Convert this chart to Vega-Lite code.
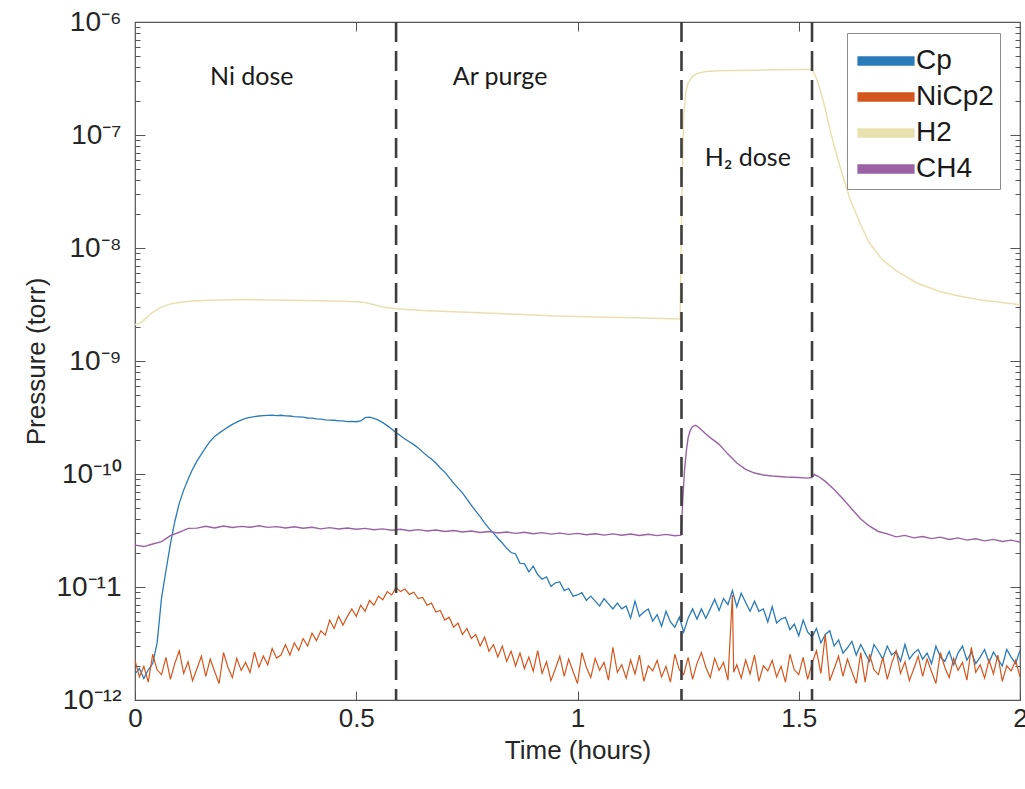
{
  "$schema": "https://vega.github.io/schema/vega-lite/v6.json",
  "width": 885,
  "height": 678,
  "autosize": {"type": "none"},
  "padding": {"left": 135, "top": 22, "right": 5, "bottom": 89},
  "background": "white",
  "config": {
    "view": {"stroke": "#555555", "strokeWidth": 1.2},
    "axis": {"grid": false, "domain": false, "labelFont": "Liberation Sans", "titleFont": "Liberation Sans", "labelColor": "#262626", "titleColor": "#262626", "tickColor": "#555555", "titleFontWeight": "normal"},
    "legend": {"labelFont": "Liberation Sans"}
  },
  "datasets": {
    "cp": [
      {"t":0.00,"p":1.7e-12},{"t":0.01,"p":1.9e-12},{"t":0.02,"p":1.55e-12},{"t":0.03,"p":1.85e-12},{"t":0.04,"p":2.1e-12},
      {"t":0.05,"p":3.2e-12},{"t":0.06,"p":8e-12},{"t":0.07,"p":1.4e-11},{"t":0.08,"p":2.4e-11},{"t":0.09,"p":3.8e-11},
      {"t":0.10,"p":5.5e-11},{"t":0.11,"p":7.2e-11},{"t":0.12,"p":9e-11},{"t":0.13,"p":1.1e-10},{"t":0.14,"p":1.3e-10},
      {"t":0.15,"p":1.5e-10},{"t":0.16,"p":1.72e-10},{"t":0.17,"p":1.95e-10},{"t":0.18,"p":2.15e-10},{"t":0.19,"p":2.3e-10},
      {"t":0.20,"p":2.45e-10},{"t":0.21,"p":2.6e-10},{"t":0.22,"p":2.75e-10},{"t":0.23,"p":2.88e-10},{"t":0.24,"p":3.0e-10},
      {"t":0.25,"p":3.1e-10},{"t":0.26,"p":3.17e-10},{"t":0.27,"p":3.22e-10},{"t":0.28,"p":3.26e-10},{"t":0.29,"p":3.28e-10},
      {"t":0.30,"p":3.3e-10},{"t":0.31,"p":3.32e-10},{"t":0.32,"p":3.29e-10},{"t":0.33,"p":3.31e-10},{"t":0.34,"p":3.27e-10},
      {"t":0.35,"p":3.26e-10},{"t":0.36,"p":3.22e-10},{"t":0.37,"p":3.2e-10},{"t":0.38,"p":3.18e-10},{"t":0.39,"p":3.13e-10},
      {"t":0.40,"p":3.12e-10},{"t":0.41,"p":3.07e-10},{"t":0.42,"p":3.06e-10},{"t":0.43,"p":3.01e-10},{"t":0.44,"p":3.0e-10},
      {"t":0.45,"p":2.99e-10},{"t":0.46,"p":2.95e-10},{"t":0.47,"p":2.95e-10},{"t":0.48,"p":2.91e-10},{"t":0.49,"p":2.92e-10},
      {"t":0.50,"p":2.9e-10},{"t":0.51,"p":2.95e-10},{"t":0.52,"p":3.15e-10},{"t":0.53,"p":3.18e-10},{"t":0.54,"p":3.1e-10},
      {"t":0.55,"p":3.0e-10},{"t":0.56,"p":2.85e-10},{"t":0.57,"p":2.68e-10},{"t":0.58,"p":2.5e-10},{"t":0.59,"p":2.32e-10},
      {"t":0.60,"p":2.18e-10},{"t":0.61,"p":2.04e-10},{"t":0.62,"p":1.93e-10},{"t":0.63,"p":1.82e-10},{"t":0.64,"p":1.7e-10},
      {"t":0.65,"p":1.57e-10},{"t":0.66,"p":1.45e-10},{"t":0.67,"p":1.36e-10},{"t":0.68,"p":1.25e-10},{"t":0.69,"p":1.13e-10},
      {"t":0.70,"p":1.04e-10},{"t":0.71,"p":9.3e-11},{"t":0.72,"p":8.3e-11},{"t":0.73,"p":7.5e-11},{"t":0.74,"p":6.8e-11},
      {"t":0.75,"p":6.0e-11},{"t":0.76,"p":5.3e-11},{"t":0.77,"p":4.7e-11},{"t":0.78,"p":4.2e-11},{"t":0.79,"p":3.7e-11},
      {"t":0.80,"p":3.3e-11},{"t":0.81,"p":3.0e-11},{"t":0.82,"p":2.7e-11},{"t":0.83,"p":2.45e-11},{"t":0.84,"p":2.2e-11},
      {"t":0.85,"p":2.02e-11},{"t":0.86,"p":1.96e-11},{"t":0.87,"p":1.62e-11},{"t":0.88,"p":1.61e-11},{"t":0.89,"p":1.36e-11},
      {"t":0.90,"p":1.53e-11},{"t":0.91,"p":1.29e-11},{"t":0.92,"p":1.17e-11},{"t":0.93,"p":1.23e-11},{"t":0.94,"p":1.01e-11},
      {"t":0.95,"p":1.09e-11},{"t":0.96,"p":1.11e-11},{"t":0.97,"p":9.3e-12},{"t":0.98,"p":9.7e-12},{"t":0.99,"p":8.3e-12},
      {"t":1.00,"p":8.5e-12},{"t":1.01,"p":8.9e-12},{"t":1.02,"p":7.6e-12},{"t":1.03,"p":8.3e-12},{"t":1.04,"p":7.5e-12},
      {"t":1.05,"p":6.8e-12},{"t":1.06,"p":7.9e-12},{"t":1.07,"p":7.1e-12},{"t":1.08,"p":6.4e-12},{"t":1.09,"p":7.2e-12},
      {"t":1.10,"p":6.4e-12},{"t":1.11,"p":6.8e-12},{"t":1.12,"p":5.3e-12},{"t":1.13,"p":7.5e-12},{"t":1.14,"p":5.5e-12},
      {"t":1.15,"p":6.0e-12},{"t":1.16,"p":6.4e-12},{"t":1.17,"p":5.0e-12},{"t":1.18,"p":5.7e-12},{"t":1.19,"p":4.5e-12},
      {"t":1.20,"p":6.1e-12},{"t":1.21,"p":4.9e-12},{"t":1.22,"p":4.4e-12},{"t":1.23,"p":5.4e-12},{"t":1.24,"p":4.0e-12},
      {"t":1.25,"p":5.3e-12},{"t":1.26,"p":6.4e-12},{"t":1.27,"p":5.2e-12},{"t":1.28,"p":6.4e-12},{"t":1.29,"p":5.3e-12},
      {"t":1.30,"p":6.4e-12},{"t":1.31,"p":7.8e-12},{"t":1.32,"p":6.2e-12},{"t":1.33,"p":7.9e-12},{"t":1.34,"p":7.0e-12},
      {"t":1.35,"p":9.3e-12},{"t":1.36,"p":6.7e-12},{"t":1.37,"p":8.8e-12},{"t":1.38,"p":7.3e-12},{"t":1.39,"p":6.1e-12},
      {"t":1.40,"p":7.5e-12},{"t":1.41,"p":6.1e-12},{"t":1.42,"p":6.4e-12},{"t":1.43,"p":4.9e-12},{"t":1.44,"p":6.7e-12},
      {"t":1.45,"p":4.8e-12},{"t":1.46,"p":5.2e-12},{"t":1.47,"p":5.4e-12},{"t":1.48,"p":4.2e-12},{"t":1.49,"p":4.7e-12},
      {"t":1.50,"p":3.7e-12},{"t":1.51,"p":5.1e-12},{"t":1.52,"p":4.0e-12},{"t":1.53,"p":3.6e-12},{"t":1.54,"p":4.3e-12},
      {"t":1.55,"p":3.2e-12},{"t":1.56,"p":3.8e-12},{"t":1.57,"p":4.1e-12},{"t":1.58,"p":3.0e-12},{"t":1.59,"p":3.4e-12},
      {"t":1.60,"p":2.6e-12},{"t":1.61,"p":2.9e-12},{"t":1.62,"p":3.3e-12},{"t":1.63,"p":2.5e-12},{"t":1.64,"p":3.1e-12},
      {"t":1.65,"p":2.6e-12},{"t":1.66,"p":2.2e-12},{"t":1.67,"p":3.1e-12},{"t":1.68,"p":2.7e-12},{"t":1.69,"p":2.3e-12},
      {"t":1.70,"p":3.0e-12},{"t":1.71,"p":2.5e-12},{"t":1.72,"p":2.7e-12},{"t":1.73,"p":2.2e-12},{"t":1.74,"p":3.1e-12},
      {"t":1.75,"p":2.3e-12},{"t":1.76,"p":2.6e-12},{"t":1.77,"p":2.8e-12},{"t":1.78,"p":2.3e-12},{"t":1.79,"p":2.6e-12},
      {"t":1.80,"p":2.1e-12},{"t":1.81,"p":3.0e-12},{"t":1.82,"p":2.4e-12},{"t":1.83,"p":2.2e-12},{"t":1.84,"p":2.7e-12},
      {"t":1.85,"p":2.05e-12},{"t":1.86,"p":2.6e-12},{"t":1.87,"p":3.0e-12},{"t":1.88,"p":2.25e-12},{"t":1.89,"p":2.65e-12},
      {"t":1.90,"p":2.1e-12},{"t":1.91,"p":2.4e-12},{"t":1.92,"p":2.8e-12},{"t":1.93,"p":2.15e-12},{"t":1.94,"p":2.65e-12},
      {"t":1.95,"p":2.3e-12},{"t":1.96,"p":2.0e-12},{"t":1.97,"p":2.8e-12},{"t":1.98,"p":2.4e-12},{"t":1.99,"p":2.1e-12},
      {"t":2.00,"p":2.75e-12}
    ],
    "ni": [
      {"t":0.00,"p":2.24e-12},{"t":0.01,"p":1.6e-12},{"t":0.02,"p":1.99e-12},{"t":0.03,"p":1.44e-12},{"t":0.04,"p":2.54e-12},
      {"t":0.05,"p":1.85e-12},{"t":0.06,"p":1.68e-12},{"t":0.07,"p":2.38e-12},{"t":0.08,"p":1.52e-12},{"t":0.09,"p":2.11e-12},
      {"t":0.10,"p":2.73e-12},{"t":0.11,"p":1.72e-12},{"t":0.12,"p":2.18e-12},{"t":0.13,"p":1.48e-12},{"t":0.14,"p":1.89e-12},
      {"t":0.15,"p":2.44e-12},{"t":0.16,"p":1.62e-12},{"t":0.17,"p":2.3e-12},{"t":0.18,"p":1.79e-12},{"t":0.19,"p":1.4e-12},
      {"t":0.20,"p":2.63e-12},{"t":0.21,"p":1.95e-12},{"t":0.22,"p":1.58e-12},{"t":0.23,"p":2.34e-12},{"t":0.24,"p":1.83e-12},
      {"t":0.25,"p":2.15e-12},{"t":0.26,"p":1.75e-12},{"t":0.27,"p":2.65e-12},{"t":0.28,"p":1.95e-12},{"t":0.29,"p":2.45e-12},
      {"t":0.30,"p":2.05e-12},{"t":0.31,"p":2.85e-12},{"t":0.32,"p":2.35e-12},{"t":0.33,"p":2.5e-12},{"t":0.34,"p":3.1e-12},
      {"t":0.35,"p":2.5e-12},{"t":0.36,"p":3.2e-12},{"t":0.37,"p":2.75e-12},{"t":0.38,"p":3.5e-12},{"t":0.39,"p":3.0e-12},
      {"t":0.40,"p":3.9e-12},{"t":0.41,"p":3.35e-12},{"t":0.42,"p":4.1e-12},{"t":0.43,"p":3.75e-12},{"t":0.44,"p":5.1e-12},
      {"t":0.45,"p":4.3e-12},{"t":0.46,"p":5.5e-12},{"t":0.47,"p":4.6e-12},{"t":0.48,"p":5.5e-12},{"t":0.49,"p":6.4e-12},
      {"t":0.50,"p":5.5e-12},{"t":0.51,"p":6.9e-12},{"t":0.52,"p":6.1e-12},{"t":0.53,"p":7.6e-12},{"t":0.54,"p":6.9e-12},
      {"t":0.55,"p":8.3e-12},{"t":0.56,"p":7.7e-12},{"t":0.57,"p":9.1e-12},{"t":0.58,"p":8.5e-12},{"t":0.59,"p":9.9e-12},
      {"t":0.60,"p":9.1e-12},{"t":0.61,"p":9.6e-12},{"t":0.62,"p":8.6e-12},{"t":0.63,"p":9.0e-12},{"t":0.64,"p":7.9e-12},
      {"t":0.65,"p":8.1e-12},{"t":0.66,"p":6.9e-12},{"t":0.67,"p":7.2e-12},{"t":0.68,"p":6.0e-12},{"t":0.69,"p":6.2e-12},
      {"t":0.70,"p":5.1e-12},{"t":0.71,"p":5.4e-12},{"t":0.72,"p":4.4e-12},{"t":0.73,"p":4.8e-12},{"t":0.74,"p":3.8e-12},
      {"t":0.75,"p":4.3e-12},{"t":0.76,"p":3.5e-12},{"t":0.77,"p":3.8e-12},{"t":0.78,"p":3.0e-12},{"t":0.79,"p":3.6e-12},
      {"t":0.80,"p":2.7e-12},{"t":0.81,"p":3.1e-12},{"t":0.82,"p":2.4e-12},{"t":0.83,"p":3.0e-12},{"t":0.84,"p":2.2e-12},
      {"t":0.85,"p":2.7e-12},{"t":0.86,"p":2.0e-12},{"t":0.87,"p":2.6e-12},{"t":0.88,"p":1.9e-12},{"t":0.89,"p":2.4e-12},
      {"t":0.90,"p":1.8e-12},
      {"t":0.91,"p":2.73e-12},{"t":0.92,"p":1.72e-12},{"t":0.93,"p":2.18e-12},{"t":0.94,"p":1.48e-12},{"t":0.95,"p":1.89e-12},
      {"t":0.96,"p":2.44e-12},{"t":0.97,"p":1.62e-12},{"t":0.98,"p":2.3e-12},{"t":0.99,"p":1.79e-12},{"t":1.00,"p":1.4e-12},
      {"t":1.01,"p":2.63e-12},{"t":1.02,"p":1.95e-12},{"t":1.03,"p":1.58e-12},{"t":1.04,"p":2.34e-12},{"t":1.05,"p":1.83e-12},
      {"t":1.06,"p":2.15e-12},{"t":1.07,"p":1.5e-12},{"t":1.08,"p":2.93e-12},{"t":1.09,"p":1.76e-12},{"t":1.10,"p":2.05e-12},
      {"t":1.11,"p":1.56e-12},{"t":1.12,"p":2.26e-12},{"t":1.13,"p":1.7e-12},{"t":1.14,"p":2.5e-12},{"t":1.15,"p":1.46e-12},
      {"t":1.16,"p":2.01e-12},{"t":1.17,"p":1.81e-12},{"t":1.18,"p":2.24e-12},{"t":1.19,"p":1.6e-12},{"t":1.20,"p":1.99e-12},
      {"t":1.21,"p":1.44e-12},{"t":1.22,"p":2.54e-12},{"t":1.23,"p":1.85e-12},{"t":1.24,"p":1.68e-12},{"t":1.25,"p":2.38e-12},
      {"t":1.26,"p":1.52e-12},{"t":1.27,"p":2.11e-12},
      {"t":1.28,"p":2.63e-12},{"t":1.29,"p":1.95e-12},{"t":1.30,"p":1.58e-12},{"t":1.31,"p":2.34e-12},{"t":1.32,"p":1.83e-12},
      {"t":1.33,"p":2.15e-12},{"t":1.34,"p":1.5e-12},{"t":1.35,"p":8.5e-12},{"t":1.353,"p":1.76e-12},{"t":1.36,"p":2.05e-12},
      {"t":1.37,"p":1.56e-12},{"t":1.38,"p":2.26e-12},{"t":1.39,"p":1.7e-12},{"t":1.40,"p":2.5e-12},{"t":1.41,"p":1.46e-12},
      {"t":1.42,"p":2.01e-12},{"t":1.43,"p":1.81e-12},{"t":1.44,"p":2.24e-12},{"t":1.45,"p":1.6e-12},{"t":1.46,"p":1.99e-12},
      {"t":1.47,"p":1.44e-12},{"t":1.48,"p":2.54e-12},{"t":1.49,"p":1.85e-12},{"t":1.50,"p":1.68e-12},{"t":1.51,"p":2.38e-12},
      {"t":1.52,"p":1.52e-12},{"t":1.53,"p":2.11e-12},{"t":1.54,"p":2.73e-12},{"t":1.55,"p":1.72e-12},{"t":1.56,"p":3.8e-12},
      {"t":1.57,"p":1.48e-12},{"t":1.58,"p":1.89e-12},{"t":1.59,"p":2.44e-12},{"t":1.60,"p":1.62e-12},{"t":1.61,"p":2.3e-12},
      {"t":1.62,"p":1.79e-12},{"t":1.63,"p":1.4e-12},{"t":1.64,"p":2.63e-12},
      {"t":1.65,"p":1.44e-12},{"t":1.66,"p":2.54e-12},{"t":1.67,"p":1.85e-12},{"t":1.68,"p":1.68e-12},{"t":1.69,"p":2.38e-12},
      {"t":1.70,"p":1.52e-12},{"t":1.71,"p":2.11e-12},{"t":1.72,"p":2.73e-12},{"t":1.73,"p":1.72e-12},{"t":1.74,"p":2.18e-12},
      {"t":1.75,"p":1.48e-12},{"t":1.76,"p":1.89e-12},{"t":1.77,"p":2.44e-12},{"t":1.78,"p":1.62e-12},{"t":1.79,"p":2.3e-12},
      {"t":1.80,"p":1.79e-12},{"t":1.81,"p":1.4e-12},{"t":1.82,"p":2.63e-12},{"t":1.83,"p":1.95e-12},{"t":1.84,"p":1.58e-12},
      {"t":1.85,"p":2.34e-12},{"t":1.86,"p":1.83e-12},{"t":1.87,"p":2.15e-12},{"t":1.88,"p":1.5e-12},{"t":1.89,"p":2.93e-12},
      {"t":1.90,"p":1.76e-12},{"t":1.91,"p":2.05e-12},{"t":1.92,"p":1.56e-12},{"t":1.93,"p":2.26e-12},{"t":1.94,"p":1.7e-12},
      {"t":1.95,"p":2.5e-12},{"t":1.96,"p":1.46e-12},{"t":1.97,"p":2.01e-12},{"t":1.98,"p":1.81e-12},{"t":1.99,"p":2.24e-12},
      {"t":2.00,"p":1.6e-12}
    ],
    "h2": [
      {"t":0.00,"p":2.1e-9},{"t":0.01,"p":2.15e-9},{"t":0.02,"p":2.3e-9},{"t":0.03,"p":2.5e-9},{"t":0.04,"p":2.7e-9},
      {"t":0.05,"p":2.85e-9},{"t":0.06,"p":3.0e-9},{"t":0.08,"p":3.2e-9},{"t":0.10,"p":3.3e-9},{"t":0.13,"p":3.4e-9},
      {"t":0.17,"p":3.45e-9},{"t":0.25,"p":3.5e-9},{"t":0.35,"p":3.45e-9},{"t":0.45,"p":3.4e-9},{"t":0.50,"p":3.35e-9},
      {"t":0.52,"p":3.3e-9},{"t":0.54,"p":3.15e-9},{"t":0.56,"p":3.0e-9},{"t":0.59,"p":2.9e-9},{"t":0.65,"p":2.8e-9},
      {"t":0.75,"p":2.7e-9},{"t":0.85,"p":2.6e-9},{"t":0.95,"p":2.5e-9},{"t":1.05,"p":2.45e-9},{"t":1.15,"p":2.4e-9},
      {"t":1.232,"p":2.35e-9},{"t":1.236,"p":3e-8},{"t":1.24,"p":1.5e-7},{"t":1.245,"p":2.4e-7},{"t":1.25,"p":2.9e-7},
      {"t":1.26,"p":3.3e-7},{"t":1.27,"p":3.5e-7},{"t":1.29,"p":3.65e-7},{"t":1.32,"p":3.7e-7},{"t":1.40,"p":3.75e-7},
      {"t":1.50,"p":3.8e-7},{"t":1.53,"p":3.8e-7},{"t":1.54,"p":3.2e-7},{"t":1.55,"p":2.4e-7},{"t":1.56,"p":1.7e-7},
      {"t":1.571,"p":1.1e-7},{"t":1.58,"p":8e-8},{"t":1.59,"p":5.8e-8},{"t":1.60,"p":4.3e-8},{"t":1.616,"p":2.7e-8},
      {"t":1.64,"p":1.6e-8},{"t":1.66,"p":1.1e-8},{"t":1.69,"p":7.8e-9},{"t":1.72,"p":6.3e-9},{"t":1.767,"p":4.9e-9},
      {"t":1.82,"p":4.1e-9},{"t":1.87,"p":3.7e-9},{"t":1.916,"p":3.45e-9},{"t":1.96,"p":3.3e-9},{"t":2.00,"p":3.15e-9}
    ],
    "ch4": [
      {"t":0.00,"p":2.35e-11},{"t":0.02,"p":2.28e-11},{"t":0.04,"p":2.4e-11},{"t":0.06,"p":2.52e-11},{"t":0.08,"p":2.85e-11},
      {"t":0.10,"p":3.05e-11},{"t":0.12,"p":3.3e-11},{"t":0.14,"p":3.32e-11},{"t":0.16,"p":3.45e-11},{"t":0.18,"p":3.33e-11},
      {"t":0.20,"p":3.47e-11},{"t":0.22,"p":3.36e-11},{"t":0.24,"p":3.44e-11},{"t":0.26,"p":3.38e-11},{"t":0.28,"p":3.48e-11},
      {"t":0.30,"p":3.37e-11},{"t":0.32,"p":3.42e-11},{"t":0.34,"p":3.33e-11},{"t":0.36,"p":3.41e-11},{"t":0.38,"p":3.31e-11},
      {"t":0.40,"p":3.38e-11},{"t":0.42,"p":3.27e-11},{"t":0.44,"p":3.35e-11},{"t":0.46,"p":3.26e-11},{"t":0.48,"p":3.33e-11},
      {"t":0.50,"p":3.24e-11},{"t":0.52,"p":3.3e-11},{"t":0.54,"p":3.21e-11},{"t":0.56,"p":3.27e-11},{"t":0.58,"p":3.18e-11},
      {"t":0.60,"p":3.24e-11},{"t":0.62,"p":3.15e-11},{"t":0.64,"p":3.22e-11},{"t":0.66,"p":3.13e-11},{"t":0.68,"p":3.19e-11},
      {"t":0.70,"p":3.1e-11},{"t":0.72,"p":3.16e-11},{"t":0.74,"p":3.07e-11},{"t":0.76,"p":3.13e-11},{"t":0.78,"p":3.04e-11},
      {"t":0.80,"p":3.1e-11},{"t":0.82,"p":3.01e-11},{"t":0.84,"p":3.07e-11},{"t":0.86,"p":2.98e-11},{"t":0.88,"p":3.05e-11},
      {"t":0.90,"p":2.96e-11},{"t":0.92,"p":3.03e-11},{"t":0.94,"p":2.94e-11},{"t":0.96,"p":3.0e-11},{"t":0.98,"p":2.92e-11},
      {"t":1.00,"p":2.98e-11},{"t":1.02,"p":2.9e-11},{"t":1.04,"p":2.96e-11},{"t":1.06,"p":2.88e-11},{"t":1.08,"p":2.95e-11},
      {"t":1.10,"p":2.87e-11},{"t":1.12,"p":2.94e-11},{"t":1.14,"p":2.86e-11},{"t":1.16,"p":2.93e-11},{"t":1.18,"p":2.85e-11},
      {"t":1.20,"p":2.92e-11},{"t":1.22,"p":2.84e-11},{"t":1.234,"p":2.88e-11},{"t":1.238,"p":6e-11},{"t":1.242,"p":1.1e-10},
      {"t":1.246,"p":1.6e-10},{"t":1.25,"p":2.1e-10},{"t":1.255,"p":2.45e-10},{"t":1.26,"p":2.62e-10},{"t":1.266,"p":2.7e-10},
      {"t":1.27,"p":2.66e-10},{"t":1.28,"p":2.46e-10},{"t":1.29,"p":2.26e-10},{"t":1.30,"p":2.1e-10},{"t":1.32,"p":1.83e-10},
      {"t":1.34,"p":1.5e-10},{"t":1.36,"p":1.25e-10},{"t":1.38,"p":1.1e-10},{"t":1.40,"p":1.02e-10},{"t":1.42,"p":9.8e-11},
      {"t":1.44,"p":9.6e-11},{"t":1.47,"p":9.4e-11},{"t":1.50,"p":9.3e-11},{"t":1.52,"p":9.2e-11},{"t":1.53,"p":9.3e-11},
      {"t":1.535,"p":9.9e-11},{"t":1.545,"p":9.5e-11},{"t":1.56,"p":8.6e-11},{"t":1.58,"p":7.3e-11},{"t":1.60,"p":6.0e-11},
      {"t":1.62,"p":4.9e-11},{"t":1.64,"p":4.0e-11},{"t":1.66,"p":3.45e-11},{"t":1.68,"p":3.1e-11},{"t":1.70,"p":2.95e-11},
      {"t":1.72,"p":2.78e-11},{"t":1.74,"p":2.86e-11},{"t":1.76,"p":2.72e-11},{"t":1.78,"p":2.8e-11},{"t":1.80,"p":2.68e-11},
      {"t":1.82,"p":2.76e-11},{"t":1.84,"p":2.63e-11},{"t":1.86,"p":2.72e-11},{"t":1.88,"p":2.6e-11},{"t":1.90,"p":2.67e-11},
      {"t":1.92,"p":2.56e-11},{"t":1.94,"p":2.64e-11},{"t":1.96,"p":2.53e-11},{"t":1.98,"p":2.6e-11},{"t":2.00,"p":2.5e-11}
    ],
    "dash": [{"t":0.59},{"t":1.235},{"t":1.53}],
    "ann": [
      {"t":0.264,"p":3.26e-7,"label":"Ni dose"},
      {"t":0.825,"p":3.26e-7,"label":"Ar purge"},
      {"t":1.385,"p":6.3e-8,"label":"H₂ dose"}
    ]
  },
  "resolve": {"axis": {"x": "independent", "y": "independent"}},
  "layer": [
    {
      "data": {"name": "cp"},
      "mark": {"type": "line", "strokeWidth": 1.3, "clip": true},
      "encoding": {
        "x": {"field": "t", "type": "quantitative",
          "scale": {"domain": [0, 2], "nice": false, "zero": false},
          "axis": {"orient": "bottom", "values": [0, 0.5, 1, 1.5, 2], "format": "~g", "title": "Time (hours)", "labelFontSize": 26, "titleFontSize": 26, "tickSize": -9, "labelPadding": 14, "titlePadding": 6, "labelFlush": false}},
        "y": {"field": "p", "type": "quantitative",
          "scale": {"type": "log", "domain": [1e-12, 1e-6], "nice": false},
          "axis": {"orient": "left", "title": "Pressure (torr)", "titleFontSize": 26, "labelFontSize": 28, "titlePadding": 6,
            "values": [1e-12,2e-12,3e-12,4e-12,5e-12,6e-12,7e-12,8e-12,9e-12,1e-11,2e-11,3e-11,4e-11,5e-11,6e-11,7e-11,8e-11,9e-11,1e-10,2e-10,3e-10,4e-10,5e-10,6e-10,7e-10,8e-10,9e-10,1e-9,2e-9,3e-9,4e-9,5e-9,6e-9,7e-9,8e-9,9e-9,1e-8,2e-8,3e-8,4e-8,5e-8,6e-8,7e-8,8e-8,9e-8,1e-7,2e-7,3e-7,4e-7,5e-7,6e-7,7e-7,8e-7,9e-7,1e-6],
            "tickSize": {"condition": {"test": "abs(log(datum.value)/LN10 - round(log(datum.value)/LN10)) < 0.01", "value": -10}, "value": -5},
            "labelPadding": 24,
            "labelExpr": "abs(log(datum.value)/LN10 - round(log(datum.value)/LN10)) > 0.01 ? '' : '10' + replace(replace(replace(replace(replace(replace(replace(replace('' + round(log(datum.value)/LN10), '-', '⁻'), '0', '⁰'), '1', '¹'), '2', '²'), '6', '⁶'), '7', '⁷'), '8', '⁸'), '9', '⁹')"}},
        "color": {"datum": "Cp", "type": "nominal",
          "scale": {"domain": ["Cp", "NiCp2", "H2", "CH4"], "range": ["#2a7bb8", "#d4561d", "#e9e0b0", "#9a62a4"]},
          "legend": {"title": null, "orient": "none", "legendX": 712, "legendY": 11, "labelFontSize": 28, "labelColor": "#1a1a1a",
            "symbolType": "M-0.8,-0.22H1.8V0.22H-0.8Z", "symbolSize": 1936, "symbolStrokeWidth": 0, "symbolOpacity": 1,
            "rowPadding": 0, "padding": 6, "labelOffset": 19, "fillColor": "white", "strokeColor": "#8c8c8c", "cornerRadius": 0,
            "encode": {"symbols": {"update": {"fill": {"scale": "color", "field": "value"}, "fillOpacity": {"value": 1}, "strokeWidth": {"value": 0}}}}}}
      }
    },
    {
      "data": {"name": "ni"},
      "mark": {"type": "line", "strokeWidth": 1.2, "clip": true},
      "encoding": {
        "x": {"field": "t", "type": "quantitative",
          "axis": {"orient": "top", "values": [0.5, 1, 1.5], "labels": false, "title": null, "tickSize": -9}},
        "y": {"field": "p", "type": "quantitative",
          "axis": {"orient": "right", "labels": false, "title": null,
            "values": [1e-12,2e-12,3e-12,4e-12,5e-12,6e-12,7e-12,8e-12,9e-12,1e-11,2e-11,3e-11,4e-11,5e-11,6e-11,7e-11,8e-11,9e-11,1e-10,2e-10,3e-10,4e-10,5e-10,6e-10,7e-10,8e-10,9e-10,1e-9,2e-9,3e-9,4e-9,5e-9,6e-9,7e-9,8e-9,9e-9,1e-8,2e-8,3e-8,4e-8,5e-8,6e-8,7e-8,8e-8,9e-8,1e-7,2e-7,3e-7,4e-7,5e-7,6e-7,7e-7,8e-7,9e-7,1e-6],
            "tickSize": {"condition": {"test": "abs(log(datum.value)/LN10 - round(log(datum.value)/LN10)) < 0.01", "value": -10}, "value": -5}}},
        "color": {"datum": "NiCp2", "type": "nominal"}
      }
    },
    {
      "data": {"name": "h2"},
      "mark": {"type": "line", "strokeWidth": 1.5, "clip": true},
      "encoding": {
        "x": {"field": "t", "type": "quantitative", "axis": null},
        "y": {"field": "p", "type": "quantitative", "axis": null},
        "color": {"datum": "H2", "type": "nominal"}
      }
    },
    {
      "data": {"name": "ch4"},
      "mark": {"type": "line", "strokeWidth": 1.4, "clip": true},
      "encoding": {
        "x": {"field": "t", "type": "quantitative", "axis": null},
        "y": {"field": "p", "type": "quantitative", "axis": null},
        "color": {"datum": "CH4", "type": "nominal"}
      }
    },
    {
      "data": {"name": "dash"},
      "mark": {"type": "rule", "color": "#3d3d3d", "strokeWidth": 2.6, "strokeDash": [20, 9]},
      "encoding": {
        "x": {"field": "t", "type": "quantitative", "axis": null}
      }
    },
    {
      "data": {"name": "ann"},
      "mark": {"type": "text", "font": "Lato", "fontSize": 25, "color": "#1a1a1a", "align": "center", "baseline": "middle"},
      "encoding": {
        "x": {"field": "t", "type": "quantitative", "axis": null},
        "y": {"field": "p", "type": "quantitative", "axis": null},
        "text": {"field": "label"}
      }
    }
  ]
}
